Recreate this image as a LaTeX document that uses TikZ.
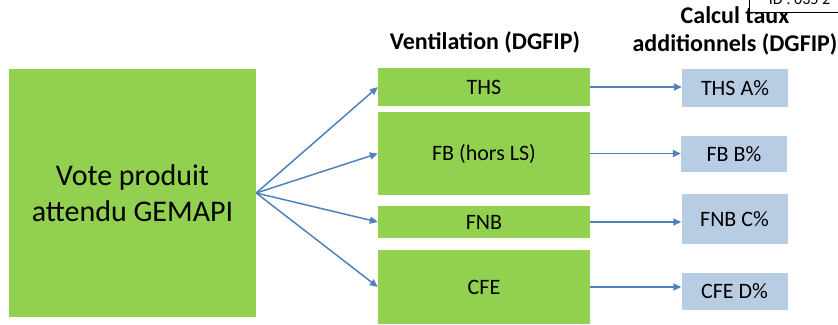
\documentclass[tikz,border=0pt]{standalone}
\usepackage{fontspec}
\setmainfont{Carlito}
\usetikzlibrary{arrows.meta}
\definecolor{boxgreen}{HTML}{92D050}
\definecolor{boxblue}{HTML}{B8CCE4}
\definecolor{arrowblue}{HTML}{4F81BD}
\tikzset{
  vent/.style={fill=boxgreen,minimum width=212pt,inner sep=0pt,font=\fontsize{22}{26}\selectfont},
  taux/.style={fill=boxblue,minimum width=106pt,inner sep=0pt,font=\fontsize{22}{26}\selectfont},
  fl/.style={draw=arrowblue,line width=1.5pt,-{Triangle[length=8pt,width=7pt]}},
  titre/.style={align=center,font=\bfseries\fontsize{24}{28}\selectfont}
}
\begin{document}
\begin{tikzpicture}[x=1pt,y=-1pt]
  \useasboundingbox (0,0) rectangle (838,324);
  \begin{scope}
  \clip (0,0) rectangle (838,324);
  \node[fill=boxgreen,minimum width=247pt,minimum height=248pt,inner sep=0pt,align=center,font=\fontsize{30}{36}\selectfont] (vote) at (132.5,193) {Vote produit\\attendu GEMAPI};

  \node[titre] (tvent) at (485,42) {Ventilation (DGFIP)};
  \node[titre] (tcalc) at (735,31) {Calcul taux\\additionnels (DGFIP)};

  \node[vent,minimum height=38pt] (ths) at (484,87) {THS};
  \node[vent,minimum height=83pt] (fb) at (484,153.5) {FB (hors LS)};
  \node[vent,minimum height=32pt] (fnb) at (484,222) {FNB};
  \node[vent,minimum height=74pt] (cfe) at (484,287) {CFE};

  \node[taux,minimum height=38pt] (thsA) at (735,88) {THS A\%};
  \node[taux,minimum height=36pt] (fbB) at (734,154) {FB B\%};
  \node[taux,minimum height=50pt] (fnbC) at (734.5,219) {FNB C\%};
  \node[taux,minimum height=37pt] (cfeD) at (734.5,291.5) {CFE D\%};

  \draw[fl] (vote.east) -- (ths.west);
  \draw[fl] (vote.east) -- (fb.west);
  \draw[fl] (vote.east) -- (fnb.west);
  \draw[fl] (vote.east) -- (cfe.west);

  \draw[fl] (ths.east) -- (thsA.west |- ths.east);
  \draw[fl] (fb.east) -- (fbB.west |- fb.east);
  \draw[fl] (fnb.east) -- (fnbC.west |- fnb.east);
  \draw[fl] (cfe.east) -- (cfeD.west |- cfe.east);

  \node[draw,fill=white,line width=1pt,anchor=south west,minimum width=100pt,minimum height=26pt,text depth=0pt,font=\fontsize{16}{18}\selectfont] (id) at (749,13) {ID : 035 2};
  \end{scope}
\end{tikzpicture}
\end{document}
